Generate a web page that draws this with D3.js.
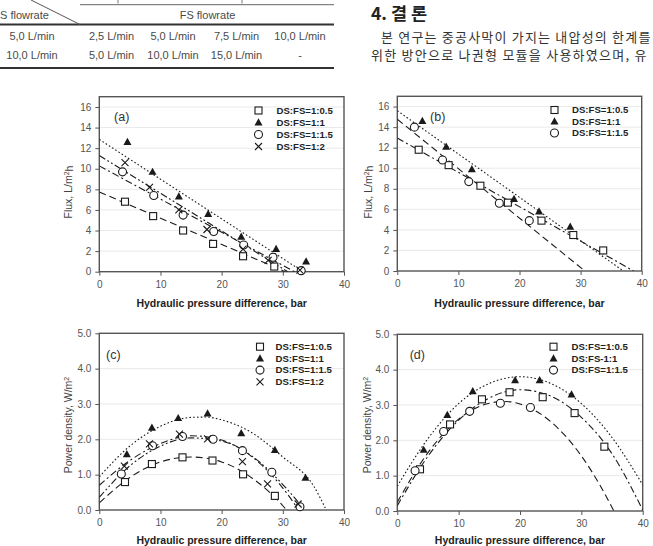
<!DOCTYPE html>
<html><head><meta charset="utf-8">
<script src="https://cdn.jsdelivr.net/npm/d3@7"></script>
<style>body{margin:0;background:#fff}svg{display:block}</style>
</head><body>
<svg id="c" width="653" height="546"></svg>
<script>
// ---------- data ----------
const pressureTicks = [0, 10, 20, 30, 40];
const fluxTicks = [0, 2, 4, 6, 8, 10, 12, 14, 16];
const powerTicks = [0, 1, 2, 3, 4, 5];
const legendA = ["DS:FS=1:0.5", "DS:FS=1:1", "DS:FS=1:1.5", "DS:FS=1:2"];
const legendB = ["DS:FS=1:0.5", "DS:FS=1:1", "DS:FS=1:1.5"];
const legendD = ["DS:FS=1:0.5", "DS:FS-1:1", "DS:FS=1:1.5"];
const panelLabels = ["(a)", "(b)", "(c)", "(d)"];
const xTitle = "Hydraulic pressure difference, bar";

// (a) flux, DS 5.0 L/min
const fluxA_05 = [[4.2,6.8],[8.8,5.4],[13.7,4.0],[18.6,2.7],[23.5,1.5],[28.6,0.5]];
const fluxA_1  = [[4.6,12.6],[8.7,9.7],[13.0,7.3],[17.8,5.6],[23.2,3.4],[28.9,2.2],[33.8,1.0]];
const fluxA_15 = [[3.8,9.7],[8.9,7.4],[13.7,5.5],[18.7,3.9],[23.6,2.6],[28.4,1.4],[33.0,0.1]];
const fluxA_2  = [[4.2,10.6],[8.2,8.2],[13.0,6.0],[17.6,4.1],[23.5,2.2],[27.6,1.1],[32.8,0.15]];
const fitA_05 = [[0,7.74],[30.4,0]];
const fitA_1  = [[0,12.85],[33.3,0]];
const fitA_15 = [[0,10.28],[31.9,0]];
const fitA_2  = [[0,11.28],[30.8,0]];

// (b) flux, DS 10.0 L/min
const fluxB_05 = [[3.5,11.8],[8.4,10.3],[13.6,8.3],[18.1,6.65],[23.6,4.9],[28.8,3.5],[33.7,2.0]];
const fluxB_1  = [[4.1,14.6],[8.0,12.1],[12.2,9.9],[19.1,7.0],[23.2,5.8],[28.3,4.3]];
const fluxB_15 = [[2.8,14.0],[7.4,10.8],[11.7,8.7],[16.7,6.6],[21.6,4.9]];
const fitB_05 = [[0,12.94],[38.7,0]];
const fitB_1  = [[0,15.6],[37.0,0]];
const fitB_15 = [[0,14.77],[30.7,0]];

// (c) power density, DS 5.0 L/min
const powC_05 = [[4.2,0.79],[8.6,1.30],[13.6,1.49],[18.5,1.40],[23.5,1.01],[28.7,0.40]];
const powC_1  = [[4.5,1.58],[8.6,2.33],[12.9,2.60],[17.7,2.73],[23.2,2.17],[28.7,1.70],[33.7,0.91]];
const powC_15 = [[3.6,1.02],[8.7,1.82],[13.6,2.08],[18.6,2.0],[23.4,1.68],[28.2,1.07],[32.8,0.09]];
const powC_2  = [[4.1,1.24],[8.2,1.87],[13.1,2.15],[17.7,2.01],[23.4,1.37],[27.5,0.74],[32.5,0.17]];
const fitC_05 = [[0,0.2],[5,0.92],[10,1.36],[15,1.5],[20,1.36],[25,0.9],[30,0.12],[30.6,0]];
const fitC_1  = [[0,0.94],[5,1.81],[10,2.37],[15,2.62],[17.5,2.63],[20,2.55],[25,2.18],[30,1.5],[35,0.69],[37.1,0]];
const fitC_15 = [[0,0.36],[5,1.25],[10,1.81],[15,2.04],[20,1.95],[25,1.52],[30,0.72],[33.6,0]];
const fitC_2  = [[0,0.7],[5,1.4],[10,1.88],[15,2.1],[20,1.98],[25,1.5],[30,0.62],[32.6,0]];

// (d) power density, DS 10.0 L/min
const powD_05 = [[3.7,1.18],[8.6,2.45],[13.8,3.16],[18.3,3.36],[23.7,3.22],[28.9,2.77],[33.75,1.82]];
const powD_1  = [[4.3,1.73],[8.15,2.72],[12.3,3.39],[19.2,3.70],[23.2,3.70],[28.4,3.30]];
const powD_15 = [[2.9,1.14],[7.55,2.25],[11.8,2.82],[16.8,3.05],[21.7,2.93]];
const fitD_05 = [[0,0.15],[5,1.55],[10,2.57],[15,3.2],[20,3.43],[25,3.25],[30,2.65],[35,1.62],[40,0.03]];
const fitD_1  = [[0,0.7],[5,2.05],[10,3.04],[15,3.61],[20,3.8],[25,3.61],[30,3.04],[35,2.08],[40,0.74]];
const fitD_15 = [[0,0.25],[5,1.65],[10,2.6],[15,3.05],[17.5,3.1],[20,3.03],[25,2.53],[30,1.56],[33,0.74],[35.3,0]];

// table & text
const tableHeader = ["S flowrate", "FS flowrate"];
const tableRow1 = ["5,0 L/min", "2,5 L/min", "5,0 L/min", "7,5 L/min", "10,0 L/min"];
const tableRow2 = ["10,0 L/min", "5,0 L/min", "10,0 L/min", "15,0 L/min", "-"];
const sectionTitle = "4. 결 론";
const paraLines = ["본 연구는 중공사막이 가지는 내압성의 한계를", "위한 방안으로 나권형 모듈을 사용하였으며, 유"];

// ---------- drawing ----------
const svg = d3.select("#c");
const INK = "#1a1a1a";
const dashes = {dash: "7,4", dot: "1.6,2.2", dashdot: "7,3,2,3", dashdotdot: "7,2.5,1.8,2.5,1.8,2.5"};

function marker(g, type, cx, cy) {
  if (type === "sq") g.append("rect").attr("x", cx-3.5).attr("y", cy-3.5).attr("width", 7).attr("height", 7)
      .attr("fill", "#fff").attr("stroke", INK).attr("stroke-width", 1.1);
  else if (type === "tri") g.append("path").attr("d", `M${cx},${cy-4.2}L${cx+4},${cy+3}L${cx-4},${cy+3}Z`).attr("fill", INK);
  else if (type === "cir") g.append("circle").attr("cx", cx).attr("cy", cy).attr("r", 4)
      .attr("fill", "#fff").attr("stroke", INK).attr("stroke-width", 1.1);
  else if (type === "x") g.append("path").attr("d", `M${cx-3.5},${cy-3.5}L${cx+3.5},${cy+3.5}M${cx+3.5},${cy-3.5}L${cx-3.5},${cy+3.5}`)
      .attr("stroke", INK).attr("stroke-width", 1.1).attr("fill", "none");
}

function panel(cfg, idx) {
  const x = d3.scaleLinear().domain([0, 40]).range([cfg.x0, cfg.x1]);
  const y = d3.scaleLinear().domain([0, cfg.ymax]).range([cfg.yb, cfg.yt]);
  const g = svg.append("g");
  const cid = "clip" + idx;
  svg.append("clipPath").attr("id", cid).append("rect")
    .attr("x", cfg.x0).attr("y", cfg.yt).attr("width", cfg.x1 - cfg.x0).attr("height", cfg.yb - cfg.yt);

  // grid
  g.selectAll(null).data(cfg.yticks.filter(v => v > 0 && v < cfg.ymax)).join("line")
    .attr("x1", cfg.x0).attr("x2", cfg.x1).attr("y1", d => y(d)).attr("y2", d => y(d))
    .attr("stroke", "#e9e9e9").attr("stroke-width", 1);

  const ax = g.append("g").attr("transform", `translate(0,${cfg.yb})`)
    .call(d3.axisBottom(x).tickValues(pressureTicks).tickSize(4).tickPadding(cfg.xpad));
  const ay = g.append("g").attr("transform", `translate(${cfg.x0},0)`)
    .call(d3.axisLeft(y).tickValues(cfg.yticks).tickSize(4).tickPadding(4).tickFormat(cfg.fmt));
  [ax, ay].forEach(a => {
    a.select(".domain").remove();
    a.selectAll(".tick line").attr("stroke", "#555");
    a.selectAll(".tick text").attr("fill", "#555").style("font-family", "Liberation Sans, Arial").style("font-size", "10px");
  });

  // frame
  g.append("rect").attr("x", cfg.x0).attr("y", cfg.yt).attr("width", cfg.x1 - cfg.x0).attr("height", cfg.yb - cfg.yt)
    .attr("fill", "none").attr("stroke", "#555").attr("stroke-width", 1.4);

  // fits
  const line = d3.line().x(d => x(d[0])).y(d => y(d[1])).curve(d3.curveMonotoneX);
  const fg = g.append("g").attr("clip-path", `url(#${cid})`);
  cfg.series.forEach(s => {
    fg.append("path").attr("d", line(s.fit)).attr("fill", "none").attr("stroke", INK)
      .attr("stroke-width", 1.1).attr("stroke-dasharray", dashes[s.dash]);
  });
  // points
  cfg.series.forEach(s => s.pts.forEach(p => marker(g, s.mk, x(p[0]), y(p[1]))));

  // legend
  cfg.series.forEach((s, i) => {
    const ly = cfg.ly + i * cfg.lstep;
    marker(g, s.mk, cfg.lx, ly);
    g.append("text").attr("x", cfg.lx + cfg.lgap).attr("y", ly).attr("dy", "0.35em")
      .style("font-family", "Liberation Sans, Arial").style("font-size", "9.6px").style("font-weight", "bold")
      .attr("fill", "#222").text(cfg.labels[i]);
  });

  // panel label
  g.append("text").attr("x", cfg.px).attr("y", cfg.py).attr("dy", "0.35em").attr("text-anchor", "middle")
    .style("font-family", "Liberation Sans, Arial").style("font-size", "12.5px").attr("fill", "#333").text(panelLabels[idx]);

  // x title
  g.append("text").attr("x", (cfg.x0 + cfg.x1) / 2).attr("y", cfg.xty).attr("text-anchor", "middle")
    .style("font-family", "Liberation Sans, Arial").style("font-size", "10.5px").style("font-weight", "bold")
    .attr("fill", "#222").text(xTitle);
  // y title
  const yt = g.append("text").attr("transform", `translate(${cfg.ytx},${cfg.yty}) rotate(-90)`).attr("text-anchor", "middle")
    .attr("dy", "0.35em").style("font-family", "Liberation Sans, Arial").style("font-size", "10.5px").attr("fill", "#444");
  yt.append("tspan").text(cfg.ytitle[0]);
  yt.append("tspan").attr("dy", "-0.4em").style("font-size", "7px").text("2");
  yt.append("tspan").attr("dy", "0.4em").text(cfg.ytitle[1]);
}

const fluxTitle = ["Flux, L/m", "h"];
const powTitle = ["Power density, W/m", ""];

panel({x0: 99.3, x1: 344, yt: 96.7, yb: 271.7, ymax: 17, yticks: fluxTicks, fmt: d3.format("d"), xpad: 5,
  series: [
    {pts: fluxA_05, fit: fitA_05, mk: "sq", dash: "dash"},
    {pts: fluxA_1, fit: fitA_1, mk: "tri", dash: "dot"},
    {pts: fluxA_15, fit: fitA_15, mk: "cir", dash: "dashdot"},
    {pts: fluxA_2, fit: fitA_2, mk: "x", dash: "dashdotdot"}],
  labels: legendA, lx: 258.5, ly: 110.5, lstep: 12, lgap: 18, px: 121.7, py: 116.5,
  xty: 307, ytx: 68, yty: 192, ytitle: fluxTitle}, 0);

panel({x0: 397.3, x1: 641.7, yt: 96.3, yb: 271, ymax: 17, yticks: fluxTicks, fmt: d3.format("d"), xpad: 5,
  series: [
    {pts: fluxB_05, fit: fitB_05, mk: "sq", dash: "dashdot"},
    {pts: fluxB_1, fit: fitB_1, mk: "tri", dash: "dot"},
    {pts: fluxB_15, fit: fitB_15, mk: "cir", dash: "dash"}],
  labels: legendB, lx: 554.5, ly: 110, lstep: 11.5, lgap: 17.5, px: 437.7, py: 116.5,
  xty: 307, ytx: 368, yty: 192, ytitle: fluxTitle}, 1);

panel({x0: 99.3, x1: 344, yt: 333.3, yb: 510, ymax: 5, yticks: powerTicks, fmt: d3.format(".1f"), xpad: 5,
  series: [
    {pts: powC_05, fit: fitC_05, mk: "sq", dash: "dash"},
    {pts: powC_1, fit: fitC_1, mk: "tri", dash: "dot"},
    {pts: powC_15, fit: fitC_15, mk: "cir", dash: "dashdotdot"},
    {pts: powC_2, fit: fitC_2, mk: "x", dash: "dashdot"}],
  labels: legendA, lx: 260, ly: 346.7, lstep: 11.7, lgap: 15.5, px: 113.3, py: 355,
  xty: 544, ytx: 68, yty: 425, ytitle: powTitle}, 2);

panel({x0: 397.3, x1: 642.7, yt: 334.3, yb: 511, ymax: 5, yticks: powerTicks, fmt: d3.format(".1f"), xpad: 5,
  series: [
    {pts: powD_05, fit: fitD_05, mk: "sq", dash: "dashdot"},
    {pts: powD_1, fit: fitD_1, mk: "tri", dash: "dot"},
    {pts: powD_15, fit: fitD_15, mk: "cir", dash: "dash"}],
  labels: legendD, lx: 553.5, ly: 346.7, lstep: 11.7, lgap: 18, px: 417.3, py: 355,
  xty: 544, ytx: 367, yty: 425, ytitle: powTitle}, 3);

// ---------- table fragment ----------
const T = svg.append("g").style("font-family", "Liberation Sans, Arial").style("font-size", "11px").attr("fill", "#4a4a4a");
T.append("line").attr("x1", 80).attr("x2", 334).attr("y1", 4.7).attr("y2", 4.7).attr("stroke", "#666").attr("stroke-width", 1);
T.append("line").attr("x1", 0).attr("x2", 334).attr("y1", 24.5).attr("y2", 24.5).attr("stroke", "#333").attr("stroke-width", 2);
T.append("line").attr("x1", 0).attr("x2", 334).attr("y1", 68).attr("y2", 68).attr("stroke", "#333").attr("stroke-width", 2);
T.append("line").attr("x1", 31).attr("y1", 0).attr("x2", 80).attr("y2", 24.5).attr("stroke", "#555").attr("stroke-width", 1);
[118, 242].forEach(v => T.append("line").attr("x1", v).attr("x2", v).attr("y1", 0).attr("y2", 3.5).attr("stroke", "#777"));
T.append("text").attr("x", 0).attr("y", 19).text(tableHeader[0]);
T.append("text").attr("x", 207.5).attr("y", 19).attr("text-anchor", "middle").text(tableHeader[1]);
const colX = [32, 111.5, 173, 236.5, 300];
tableRow1.forEach((t, i) => T.append("text").attr("x", colX[i]).attr("y", 39.5).attr("text-anchor", "middle").text(t));
tableRow2.forEach((t, i) => T.append("text").attr("x", colX[i]).attr("y", 58.5).attr("text-anchor", "middle").text(t));

// ---------- Korean text ----------
svg.append("text").attr("x", 371).attr("y", 20).style("font-family", "Noto Sans CJK KR").style("font-size", "17.5px")
  .style("font-weight", "bold").attr("fill", "#222").text(sectionTitle);
paraLines.forEach((t, i) => svg.append("text").attr("x", i === 0 ? 381 : 371).attr("y", 42 + i * 17.5)
  .style("font-family", "Noto Sans CJK KR").style("font-size", "13px").style("letter-spacing", i === 0 ? "1.2px" : "1.25px")
  .attr("fill", "#333").text(t));
</script>
</body></html>
